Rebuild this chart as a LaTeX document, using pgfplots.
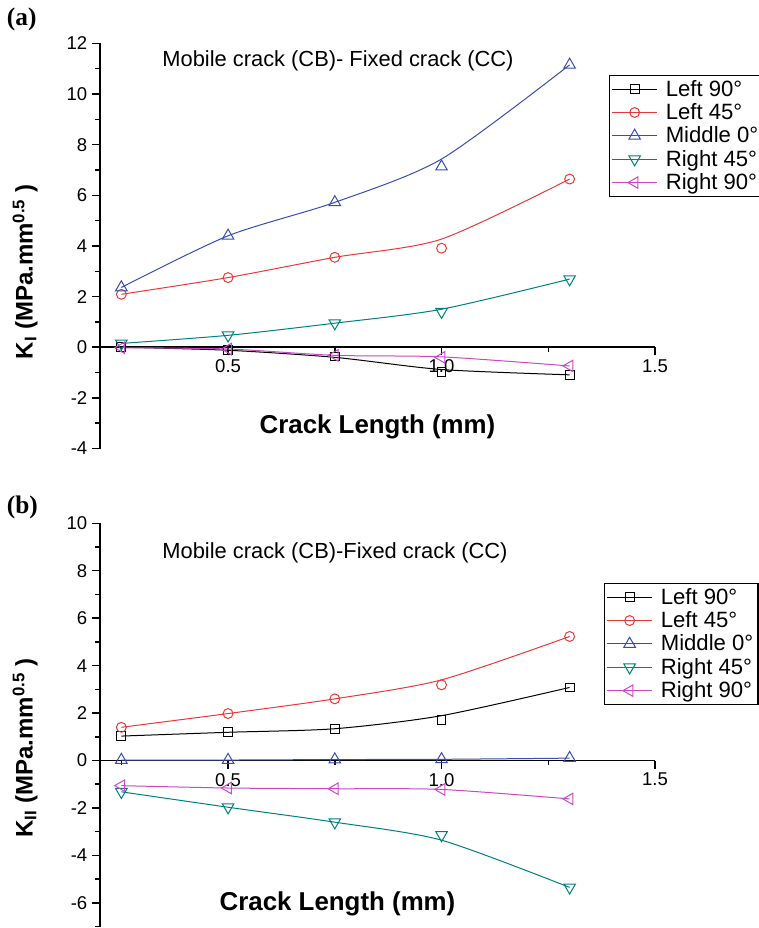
\documentclass[border=0pt]{standalone}
\usepackage{pgfplots}
\pgfplotsset{compat=1.18}
\usepackage{fontspec}
\setmainfont{Liberation Sans}
\newfontfamily\panelfont{Liberation Serif}

\definecolor{cblack}{RGB}{0,0,0}
\definecolor{cred}{RGB}{232,56,56}
\definecolor{cblue}{RGB}{56,76,182}
\definecolor{cteal}{RGB}{0,128,128}
\definecolor{cmag}{RGB}{200,72,200}

\pgfplotsset{
  kframe/.style={
    scale only axis,
    width=416.25pt,
    xmin=0.2, xmax=1.5,
    axis x line=middle, axis y line=left,
    axis line style={-, line width=1.3pt},
    xtick={0.5,1.0,1.5}, xticklabels={0.5,1.0,1.5},
    minor xtick={0.25,0.75,1.25},
    tick align=outside,
    major tick length=6pt, minor tick length=3.5pt,
    tick style={black, line width=1.1pt},
    tick label style={font=\fontsize{13.9}{16}\selectfont},
    /pgf/number format/assume math mode=true,
    clip=false,
    xlabel style={font=\fontsize{19.4}{22}\selectfont\bfseries, anchor=base},
    ylabel style={font=\fontsize{18}{21}\selectfont\bfseries, anchor=center},
    legend style={draw=black, line width=0.8pt,
      font=\fontsize{16.6}{18.6}\selectfont,
      anchor=north west, inner sep=1.5pt, row sep=0pt,
      /tikz/every odd column/.append style={column sep=4pt}},
    legend cell align=left,
    legend image code/.code={\draw[mark repeat=2,mark phase=2,#1]
      plot coordinates {(0pt,0pt)(17pt,0pt)(34pt,0pt)};},
  },
  sq/.style={cblack, line width=0.75pt, mark=square, mark size=3.3pt, mark options={fill=white}},
  ci/.style={cred, line width=0.75pt, mark=o, mark size=3.7pt, mark options={fill=white}},
  tu/.style={cblue, line width=0.75pt, mark=triangle, mark size=5pt, mark options={fill=white}},
  td/.style={cteal, line width=0.75pt, mark=triangle, mark size=5pt, mark options={fill=white, rotate=180}},
  tl/.style={cmag, line width=0.75pt, mark=triangle, mark size=5pt, mark options={fill=white, rotate=90}},
  fit/.style={line width=0.75pt, smooth, tension=0.45, no markers, forget plot},
}

\begin{document}
\begin{tikzpicture}
\path[use as bounding box] (0pt,0pt) rectangle (569.25pt,696pt);

\node[anchor=base west, inner sep=0pt, font=\fontsize{19}{22}\panelfont\bfseries] at (5pt,677pt) {(a)};
\node[anchor=base west, inner sep=0pt, font=\fontsize{19}{22}\panelfont\bfseries] at (5pt,311pt) {(b)};

% ---------- (a) mode I ----------
\begin{axis}[kframe,
  at={(75pt,359.6pt)}, anchor=south west,
  height=303.9pt,
  ymin=-4, ymax=12,
  ytick={-4,-2,...,12}, minor ytick={-3,-1,...,11},
  xlabel={Crack Length (mm)},
  xlabel style={at={(axis description cs:0.5,0.038)}},
  ylabel={K\textsubscript{I} (MPa.mm\textsuperscript{0.5} )},
  ylabel style={at={(axis description cs:-0.135,0.436)}},
  legend style={at={(axis description cs:0.917,0.922)}},
]
\addlegendimage{sq}\addlegendentry{Left 90°}
\addlegendimage{ci}\addlegendentry{Left 45°}
\addlegendimage{tu}\addlegendentry{Middle 0°}
\addlegendimage{td}\addlegendentry{Right 45°}
\addlegendimage{tl}\addlegendentry{Right 90°}

\node[anchor=base west, inner sep=0pt, font=\fontsize{16.4}{19}\selectfont] at (axis description cs:0.112,0.943) {Mobile crack (CB)- Fixed crack (CC)};

% Left 90
\addplot[fit, cblack] coordinates {(0.25,0.0) (0.5,-0.12) (0.75,-0.40) (1.0,-0.88) (1.3,-1.09)};
\addplot[sq, only marks, forget plot] coordinates {(0.25,0.0) (0.5,-0.10) (0.75,-0.37) (1.0,-0.98) (1.3,-1.09)};
% Left 45
\addplot[fit, cred] coordinates {(0.25,2.09) (0.5,2.75) (0.75,3.55) (1.0,4.27) (1.3,6.64)};
\addplot[ci, only marks, forget plot] coordinates {(0.25,2.09) (0.5,2.75) (0.75,3.55) (1.0,3.91) (1.3,6.64)};
% Middle 0
\addplot[fit, cblue] coordinates {(0.25,2.36) (0.5,4.40) (0.75,5.72) (1.0,7.43) (1.3,11.15)};
\addplot[tu, only marks, forget plot] coordinates {(0.25,2.36) (0.5,4.40) (0.75,5.72) (1.0,7.13) (1.3,11.15)};
% Right 45
\addplot[fit, cteal] coordinates {(0.25,0.15) (0.5,0.47) (0.75,0.95) (1.0,1.50) (1.3,2.69)};
\addplot[td, only marks, forget plot] coordinates {(0.25,0.15) (0.5,0.47) (0.75,0.95) (1.0,1.40) (1.3,2.69)};
% Right 90
\addplot[fit, cmag] coordinates {(0.25,-0.02) (0.5,-0.07) (0.75,-0.32) (1.0,-0.38) (1.3,-0.74)};
\addplot[tl, only marks, forget plot] coordinates {(0.25,-0.02) (0.5,-0.07) (0.75,-0.32) (1.0,-0.40) (1.3,-0.74)};
\end{axis}

% ---------- (b) mode II ----------
\begin{axis}[kframe,
  at={(75pt,1.1pt)}, anchor=south west,
  height=302.4pt,
  ymin=-7, ymax=10,
  ytick={-6,-4,...,10}, minor ytick={-7,-5,...,9},
  xlabel={Crack Length (mm)},
  xlabel style={at={(axis description cs:0.428,0.039)}},
  ylabel={K\textsubscript{II} (MPa.mm\textsuperscript{0.5} )},
  ylabel style={at={(axis description cs:-0.135,0.443)}},
  legend style={at={(axis description cs:0.908,0.852)}},
]
\addlegendimage{sq}\addlegendentry{Left 90°}
\addlegendimage{ci}\addlegendentry{Left 45°}
\addlegendimage{tu}\addlegendentry{Middle 0°}
\addlegendimage{td}\addlegendentry{Right 45°}
\addlegendimage{tl}\addlegendentry{Right 90°}

\node[anchor=base west, inner sep=0pt, font=\fontsize{16.4}{19}\selectfont] at (axis description cs:0.112,0.914) {Mobile crack (CB)-Fixed crack (CC)};

% Left 90
\addplot[fit, cblack] coordinates {(0.25,1.03) (0.5,1.19) (0.75,1.34) (1.0,1.89) (1.3,3.08)};
\addplot[sq, only marks, forget plot] coordinates {(0.25,1.03) (0.5,1.19) (0.75,1.32) (1.0,1.71) (1.3,3.08)};
% Left 45
\addplot[fit, cred] coordinates {(0.25,1.40) (0.5,1.98) (0.75,2.60) (1.0,3.40) (1.3,5.23)};
\addplot[ci, only marks, forget plot] coordinates {(0.25,1.40) (0.5,1.98) (0.75,2.60) (1.0,3.19) (1.3,5.23)};
% Middle 0
\addplot[fit, cblue] coordinates {(0.25,0.02) (0.5,0.02) (0.75,0.04) (1.0,0.05) (1.3,0.10)};
\addplot[tu, only marks, forget plot] coordinates {(0.25,0.02) (0.5,0.02) (0.75,0.04) (1.0,0.05) (1.3,0.10)};
% Right 45
\addplot[fit, cteal] coordinates {(0.25,-1.32) (0.5,-1.97) (0.75,-2.60) (1.0,-3.36) (1.3,-5.35)};
\addplot[td, only marks, forget plot] coordinates {(0.25,-1.32) (0.5,-1.97) (0.75,-2.60) (1.0,-3.14) (1.3,-5.35)};
% Right 90
\addplot[fit, cmag] coordinates {(0.25,-1.06) (0.5,-1.16) (0.75,-1.19) (1.0,-1.22) (1.3,-1.62)};
\addplot[tl, only marks, forget plot] coordinates {(0.25,-1.06) (0.5,-1.16) (0.75,-1.19) (1.0,-1.22) (1.3,-1.62)};
\end{axis}
\end{tikzpicture}
\end{document}
